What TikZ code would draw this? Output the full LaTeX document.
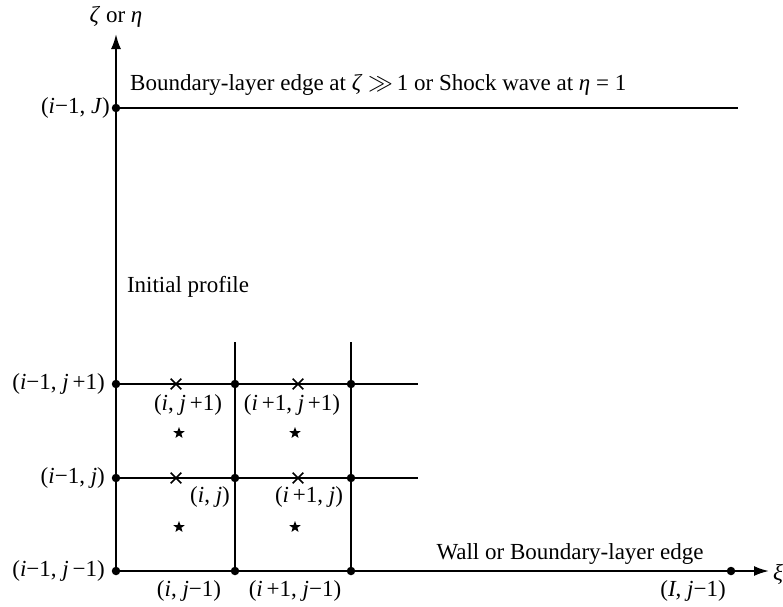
\documentclass[tikz,border=0pt]{standalone}
\usepackage{fontspec}
\setmainfont{Liberation Serif}
\usetikzlibrary{arrows.meta,shapes.geometric,shapes.misc}
\newcommand\vi{\textit{i}}
\newcommand\vj{\textit{j}}
\begin{document}
\begin{tikzpicture}[x=1pt,y=-1pt,font=\fontsize{23}{27}\selectfont,
  ln/.style={line width=2pt},
  ax/.style={line width=2pt,-{Latex[length=15pt,width=10pt]}},
  dot/.style={circle,fill,inner sep=0pt,minimum size=8.5pt},
  crs/.style={cross out,draw,line width=1.6pt,minimum size=9pt,inner sep=0pt},
  st/.style={star,star points=5,star point ratio=2.4,fill,draw=none,inner sep=0pt,minimum size=12pt},
  lbl/.style={inner sep=0pt}]
\useasboundingbox (0,0) rectangle (783,606);
% grid points
\node[dot] (a0) at (116,571) {};
\node[dot] (a1) at (116,478) {};
\node[dot] (a2) at (116,384) {};
\node[dot] (aJ) at (116,108) {};
\node[dot] (b0) at (235,571) {};
\node[dot] (b1) at (235,478) {};
\node[dot] (b2) at (235,384) {};
\node[dot] (c0) at (351,571) {};
\node[dot] (c1) at (351,478) {};
\node[dot] (c2) at (351,384) {};
\node[dot] (Ipt) at (731,571) {};
\coordinate (ytip) at (116,34);
\coordinate (xtip) at (769,571);
\coordinate (btop) at (235,342);
\coordinate (ctop) at (351,342);
\coordinate (r1) at (418,478);
\coordinate (r2) at (418,384);
\coordinate (topend) at (738,108);
% lines
\draw[ax] (a0.center) -- (ytip);
\draw[ax] (a0.center) -- (xtip);
\draw[ln] (aJ.center) -- (topend);
\draw[ln] (a2.center) -- (r2);
\draw[ln] (a1.center) -- (r1);
\draw[ln] (btop) -- (b0.center);
\draw[ln] (ctop) -- (c0.center);
% crosses and stars
\node[crs] (x1) at (176,384) {};
\node[crs] (x2) at (298,384) {};
\node[crs] (x3) at (176,478) {};
\node[crs] (x4) at (298,478) {};
\node[st] (s1) at (179,433) {};
\node[st] (s2) at (295,433) {};
\node[st] (s3) at (179,527) {};
\node[st] (s4) at (295,527) {};
% labels
\node[lbl] (yl) at (116,17) {\textit{ζ} or \textit{η}};
\node[lbl] (xl) at (778,574) {\textit{ξ}};
\node[lbl,anchor=west] (top) at (130,85) {Boundary-layer edge at \textit{ζ} $\gg$\,1 or Shock wave at \textit{η} = 1};
\node[lbl] (ip) at (188,287) {Initial profile};
\node[lbl,anchor=east] (lJ) at (110,108) {(\vi−1, \textit{J})};
\node[lbl,anchor=east] (l2) at (105,384) {(\vi−1, \vj\,+1)};
\node[lbl,anchor=east] (l1) at (105,478) {(\vi−1, \vj)};
\node[lbl,anchor=east] (l0) at (105,571) {(\vi−1, \vj\,−1)};
\node[lbl] (n12) at (188,405) {(\vi, \vj\,+1)};
\node[lbl] (n22) at (292,405) {(\vi\,+1, \vj\,+1)};
\node[lbl] (n11) at (210,497) {(\vi, \vj)};
\node[lbl] (n21) at (309,497) {(\vi\,+1, \vj)};
\node[lbl] (n10) at (189,591) {(\vi, \vj−1)};
\node[lbl] (n20) at (295,591) {(\vi\,+1, \vj−1)};
\node[lbl] (nI) at (693,591) {(\textit{I}, \vj−1)};
\node[lbl] (wl) at (570,554) {Wall or Boundary-layer edge};
\end{tikzpicture}
\end{document}
